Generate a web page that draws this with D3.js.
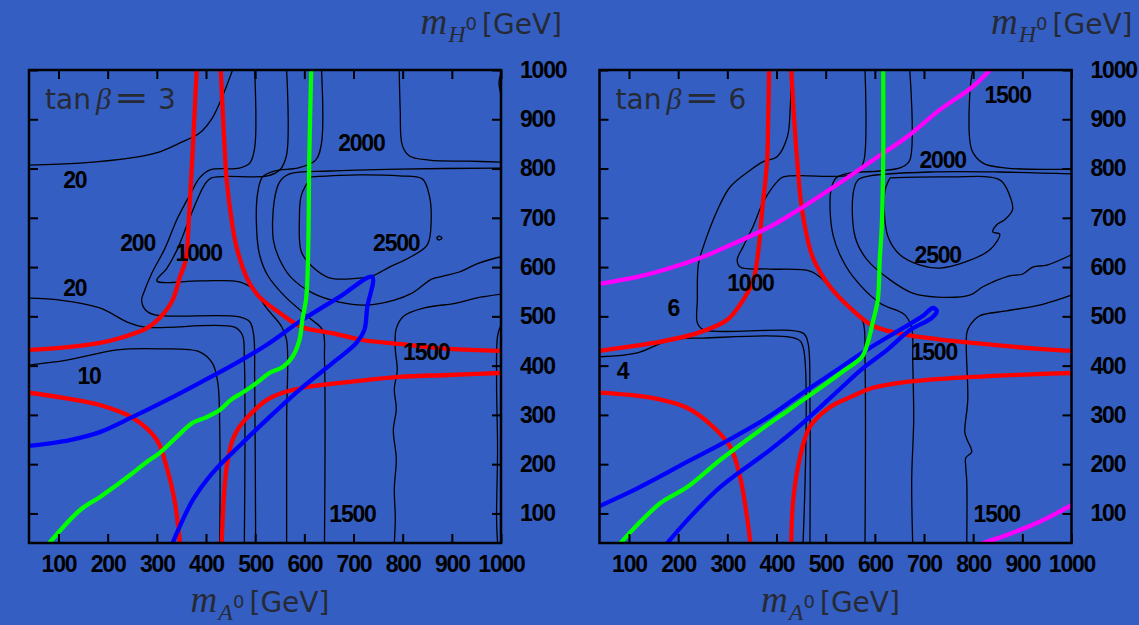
<!DOCTYPE html>
<html>
<head>
<meta charset="utf-8">
<script src="https://cdn.jsdelivr.net/npm/d3@7"></script>
<style>
	html, body { margin: 0; padding: 0; background: #345ec2; }
	svg { display: block; }
	.tick-label, .contour-label { font-family: "Liberation Sans", Arial, sans-serif; font-weight: bold; font-size: 23px; letter-spacing: -1.2px; fill: #000; }
	.title-text { fill: #262a35; font-family: "DejaVu Sans", sans-serif; }
</style>
</head>
<body>
<svg id="chart" width="1139" height="625"></svg>
<script>
'use strict';

//Axis range and ticks (GeV)
var massMin = 40;
var massMax = 1000;
var tickValues = [100, 200, 300, 400, 500, 600, 700, 800, 900, 1000];

//tan beta = 3 : thick curves, [mA, mH] in GeV
var tb3RedUpperLeft = [[381,1000],[373,838],[365,696],[359,615],[347,580],[332,533],[306,497],[280,476],[225,456],[184,446],[103,436],[40,432]];
var tb3RedUpperRight = [[430,1000],[436,878],[442,777],[452,696],[462,641],[485,574],[509,539],[550,507],[596,478],[657,466],[718,452],[793,444],[895,434],[1000,430]];
var tb3RedLowerLeft = [[40,345],[113,334],[184,320],[251,294],[300,249],[320,194],[336,127],[347,40]];
var tb3RedLowerRight = [[432,40],[436,127],[442,194],[454,249],[468,276],[489,300],[523,330],[556,345],[596,355],[692,367],[793,377],[895,381],[1000,385]];
var tb3Green = [[614,1000],[610,817],[608,641],[604,539],[596,493],[590,452],[576,418],[556,397],[529,385],[503,365],[474,345],[450,330],[428,310],[400,295],[373,284],[340,255],[306,223],[280,205],[251,182],[215,155],[184,133],[144,107],[83,42]];
var tb3Blue = [[40,237],[123,249],[184,265],[251,296],[320,330],[387,365],[454,401],[523,442],[590,489],[671,539],[738,580],[728,519],[722,472],[706,446],[657,405],[590,351],[523,290],[474,243],[413,182],[373,127],[332,40]];

//tan beta = 3 : thin contour lines
var tb3Line20a = [[40,807],[144,811],[251,822],[306,834],[347,852],[387,872],[413,903],[432,943],[454,1000]];
var tb3Line200 = [[499,1000],[499,842],[489,811],[468,801],[407,797],[387,781],[367,746],[342,699],[316,637],[290,588],[273,547],[269,533],[277,513],[296,503],[468,499],[489,489],[497,462],[499,371],[501,40]];
var tb3Line1000 = [[564,1000],[564,828],[550,797],[525,785],[411,781],[397,767],[371,710],[342,637],[320,597],[300,572],[387,572],[468,570],[495,556],[523,517],[554,479],[564,452],[564,290],[564,40]];
var tb3Line20b = [[40,537],[103,533],[184,517],[239,489],[275,478],[458,478],[474,462],[478,411],[478,40]];
var tb3Line10 = [[40,401],[117,411],[219,432],[306,434],[387,428],[413,405],[424,365],[428,269],[428,40]];
var tb3Line1500a = [[635,1000],[635,852],[623,817],[590,802],[539,795],[515,783],[505,750],[503,675],[509,625],[525,584],[560,541],[610,497],[637,472],[641,411],[641,40]];
var tb3Line2000a = [[1000,801],[793,799],[651,795],[570,789],[550,773],[539,736],[537,655],[550,615],[574,578],[617,547],[671,529],[726,523],[783,533],[819,547],[860,576],[884,582],[915,590],[955,608],[1000,621]];
var tb3Line2500 = [[614,783],[712,787],[793,785],[840,779],[854,746],[858,696],[850,645],[813,619],[773,600],[738,582],[692,576],[651,578],[617,600],[594,631],[590,696],[594,746],[614,783]];
var tb3Loop2500 = [[869,659],[874,663],[880,659],[874,655],[869,659]];
var tb3Line2000b = [[793,1000],[795,919],[799,848],[813,826],[854,817],[935,815],[1000,813]];
var tb3Line1500b = [[1000,545],[949,537],[909,527],[844,517],[803,501],[787,475],[785,434],[789,391],[783,352],[787,312],[781,269],[787,211],[783,150],[785,89],[783,40]];
var tb3LineEdge = [[1000,483],[993,460],[991,371],[993,229],[991,87],[993,40]];
var tb3LineCorner = [[1000,994],[996,974],[1000,950]];

var tb3LabelText = ["20", "200", "1000", "20", "10", "2000", "2500", "1500", "1500"];
var tb3LabelAt = [[133,777],[261,649],[385,629],[133,558],[162,379],[716,852],[787,649],[848,428],[698,99]];

//tan beta = 6 : thick curves
var tb6RedUpperLeft = [[385,1000],[383,899],[381,817],[371,716],[363,633],[353,574],[332,533],[300,493],[239,466],[150,446],[83,436],[40,430]];
var tb6RedUpperRight = [[430,1000],[436,899],[442,817],[452,716],[474,619],[509,560],[550,517],[596,481],[657,464],[726,454],[799,446],[935,434],[1000,430]];
var tb6RedLowerLeft = [[40,345],[150,334],[219,314],[271,276],[306,235],[326,174],[340,93],[347,40]];
var tb6RedLowerRight = [[430,40],[434,127],[448,215],[468,276],[509,316],[550,336],[596,355],[665,367],[799,377],[935,383],[1000,385]];
var tb6Green = [[617,1000],[617,817],[614,681],[610,615],[606,533],[596,489],[586,448],[574,418],[539,391],[495,359],[428,312],[361,265],[286,209],[219,154],[164,121],[123,83],[83,40]];
var tb6Blue = [[40,115],[117,151],[219,205],[306,251],[387,298],[454,345],[523,391],[590,436],[657,476],[698,501],[718,517],[726,511],[716,497],[671,472],[625,432],[576,395],[523,347],[454,284],[387,229],[286,154],[219,87],[178,40]];
var tb6MagentaUpper = [[40,566],[117,580],[184,598],[251,621],[320,651],[387,682],[454,722],[529,771],[596,817],[665,864],[732,919],[799,966],[834,1000]];
var tb6MagentaLower = [[820,40],[868,56],[935,83],[1000,117]];

//tan beta = 6 : thin contour lines
var tb6Line6 = [[430,1000],[428,925],[422,864],[401,824],[373,814],[347,797],[306,763],[280,716],[251,641],[241,605],[239,533],[239,487],[251,473],[454,466],[464,446],[468,330],[468,40]];
var tb6Line4 = [[40,418],[117,426],[184,452],[251,456],[442,454],[454,438],[454,40]];
var tb6Line1000 = [[580,1000],[578,817],[566,793],[539,785],[414,783],[401,773],[373,732],[353,684],[332,641],[320,615],[326,600],[387,596],[468,592],[493,576],[525,539],[560,511],[576,489],[580,411],[580,40]];
var tb6Line1500a = [[671,1000],[671,817],[655,803],[610,795],[550,791],[521,781],[511,757],[509,716],[515,665],[529,625],[556,580],[610,527],[661,503],[675,476],[677,411],[679,290],[675,168],[677,40]];
var tb6Line2000a = [[1000,789],[854,793],[712,793],[590,785],[566,777],[556,750],[560,661],[584,615],[631,574],[677,547],[726,539],[793,543],[820,560],[874,582],[901,586],[921,600],[950,604],[1000,625]];
var tb6Line2500 = [[631,781],[752,783],[854,777],[874,746],[880,716],[864,696],[848,686],[840,671],[854,667],[834,635],[783,610],[732,598],[692,604],[651,625],[627,661],[619,716],[621,757],[631,781]];
var tb6Line2000b = [[799,1000],[793,949],[797,838],[820,811],[868,801],[1000,799]];
var tb6Line1500b = [[1000,543],[970,533],[935,523],[868,511],[813,501],[793,481],[787,466],[789,330],[783,265],[787,251],[797,225],[785,213],[785,194],[787,164],[787,40]];

var tb6LabelText = ["1500", "2000", "2500", "1000", "6", "4", "1500", "1500"];
var tb6LabelAt = [[870,949],[738,817],[728,625],[347,568],[190,517],[87,389],[720,428],[848,99]];

//Layout
var plotTop = 70;
var plotWidth = 472;
var plotHeight = 473;

var panels = [
	{
		left: 29,
		tanBeta: "3",
		contours: [tb3Line20a, tb3Line200, tb3Line1000, tb3Line20b, tb3Line10, tb3Line1500a, tb3Line2000a, tb3Line2500, tb3Loop2500, tb3Line2000b, tb3Line1500b, tb3LineEdge, tb3LineCorner],
		labelText: tb3LabelText,
		labelAt: tb3LabelAt,
		curves: [
			{ color: "#ff0000", lines: [tb3RedUpperLeft, tb3RedUpperRight, tb3RedLowerLeft, tb3RedLowerRight] },
			{ color: "#0000ff", lines: [tb3Blue] },
			{ color: "#00ff00", lines: [tb3Green] }
		]
	},
	{
		left: 599.5,
		tanBeta: "6",
		contours: [tb6Line6, tb6Line4, tb6Line1000, tb6Line1500a, tb6Line2000a, tb6Line2500, tb6Line2000b, tb6Line1500b],
		labelText: tb6LabelText,
		labelAt: tb6LabelAt,
		curves: [
			{ color: "#ff0000", lines: [tb6RedUpperLeft, tb6RedUpperRight, tb6RedLowerLeft, tb6RedLowerRight] },
			{ color: "#ff00ff", lines: [tb6MagentaUpper, tb6MagentaLower] },
			{ color: "#0000ff", lines: [tb6Blue] },
			{ color: "#00ff00", lines: [tb6Green] }
		]
	}
];

var x = d3.scaleLinear().domain([massMin, massMax]).range([0, plotWidth]);
var y = d3.scaleLinear().domain([massMin, massMax]).range([plotHeight, 0]);

var line = d3.line()
	.x(function(d) { return x(d[0]); })
	.y(function(d) { return y(d[1]); })
	.curve(d3.curveCatmullRom.alpha(0.5));

var plainNumber = d3.format("d");

var svg = d3.select("#chart");

svg.append("rect")
	.attr("width", 1139)
	.attr("height", 625)
	.attr("fill", "#345ec2");

//Strip the axis domain and style ticks
function styleAxis(sel) {
	sel.select(".domain").remove();
	sel.selectAll(".tick line").attr("stroke", "#000").attr("stroke-width", 2);
	sel.selectAll(".tick text").attr("class", "tick-label");
}

//m_X0 [GeV] axis title
function massTitle(g, px, py, particle, anchor) {
	var t = g.append("text")
		.attr("x", px)
		.attr("y", py)
		.attr("text-anchor", anchor)
		.attr("class", "title-text");

	t.append("tspan")
		.style("font-family", "'Liberation Serif', serif")
		.style("font-style", "italic")
		.style("font-size", "37px")
		.text("m");
	t.append("tspan")
		.attr("dy", 8)
		.attr("dx", 1)
		.style("font-family", "'Liberation Serif', serif")
		.style("font-style", "italic")
		.style("font-size", "24px")
		.text(particle);
	t.append("tspan")
		.attr("dy", -12)
		.style("font-size", "18px")
		.text("0");
	t.append("tspan")
		.attr("dy", 4)
		.attr("dx", 5)
		.style("font-size", "28px")
		.text("[GeV]");
}

panels.forEach(function(panel, i) {
	var g = svg.append("g")
		.attr("transform", "translate(" + panel.left + "," + plotTop + ")");

	var clipId = "plot-clip-" + i;
	g.append("clipPath")
		.attr("id", clipId)
		.append("rect")
		.attr("width", plotWidth)
		.attr("height", plotHeight);

	var plot = g.append("g").attr("clip-path", "url(#" + clipId + ")");

	//Thin contour lines
	plot.selectAll(".contour")
		.data(panel.contours)
		.enter().append("path")
		.attr("class", "contour")
		.attr("d", line)
		.attr("fill", "none")
		.attr("stroke", "#000")
		.attr("stroke-width", 1.3);

	//Thick coloured curves
	panel.curves.forEach(function(set) {
		plot.selectAll(null)
			.data(set.lines)
			.enter().append("path")
			.attr("d", line)
			.attr("fill", "none")
			.attr("stroke", set.color)
			.attr("stroke-width", 4.3)
			.attr("stroke-linejoin", "round")
			.attr("stroke-linecap", "round");
	});

	//Contour values
	g.selectAll(".contour-label")
		.data(panel.labelText)
		.enter().append("text")
		.attr("class", "contour-label")
		.attr("text-anchor", "middle")
		.attr("dy", "0.36em")
		.attr("x", function(d, j) { return x(panel.labelAt[j][0]); })
		.attr("y", function(d, j) { return y(panel.labelAt[j][1]); })
		.text(function(d) { return d; });

	//Axes, ticks pointing inwards
	g.append("g")
		.attr("transform", "translate(0," + plotHeight + ")")
		.call(d3.axisBottom(x).tickValues(tickValues).tickFormat(plainNumber).tickSizeInner(-9).tickSizeOuter(0).tickPadding(13))
		.call(styleAxis);

	g.append("g")
		.call(d3.axisTop(x).tickValues(tickValues).tickSizeInner(-9).tickSizeOuter(0).tickFormat(function() { return ""; }))
		.call(styleAxis);

	g.append("g")
		.call(d3.axisLeft(y).tickValues(tickValues).tickSizeInner(-9).tickSizeOuter(0).tickFormat(function() { return ""; }))
		.call(styleAxis);

	g.append("g")
		.attr("transform", "translate(" + plotWidth + ",0)")
		.call(d3.axisRight(y).tickValues(tickValues).tickFormat(plainNumber).tickSizeInner(-9).tickSizeOuter(0).tickPadding(19))
		.call(styleAxis);

	g.append("rect")
		.attr("width", plotWidth)
		.attr("height", plotHeight)
		.attr("fill", "none")
		.attr("stroke", "#000")
		.attr("stroke-width", 2.5);

	//tan beta = N
	var tb = g.append("text")
		.attr("x", 16)
		.attr("y", 39)
		.attr("class", "title-text")
		.style("font-size", "28px");
	tb.append("tspan").text("tan");
	tb.append("tspan")
		.attr("x", 67)
		.style("font-family", "'Liberation Serif', serif")
		.style("font-style", "italic")
		.style("font-size", "30px")
		.text("β");
	tb.append("tspan")
		.attr("x", 129)
		.text(panel.tanBeta);

	//wide maths equals sign
	g.append("text")
		.attr("class", "title-text")
		.attr("transform", "translate(85,39) scale(1.3,1)")
		.style("font-size", "32px")
		.text("=");

	massTitle(g, plotWidth + 61, -36, "H", "end");
	massTitle(g, plotWidth / 2 - 5, plotHeight + 69, "A", "middle");
});
</script>
</body>
</html>
